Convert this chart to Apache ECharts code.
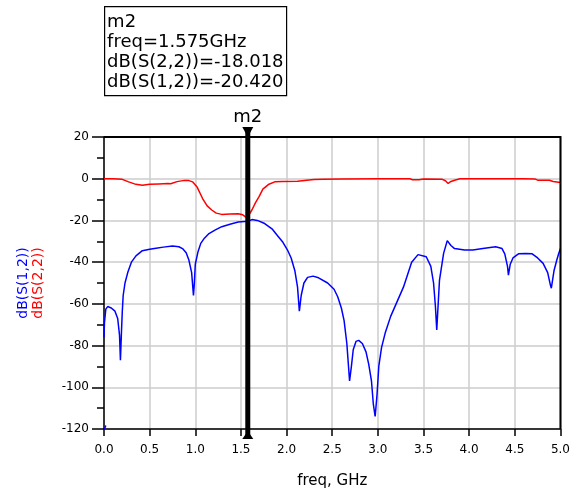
<!DOCTYPE html>
<html>
<head>
<meta charset="utf-8">
<script src="https://cdn.jsdelivr.net/npm/echarts@6/dist/echarts.min.js"></script>
<style>
  html, body { margin: 0; padding: 0; background: #fff; }
  #chart { width: 573px; height: 494px; }
</style>
</head>
<body>
<div id="chart"></div>
<script>
// Frequency sweep (GHz) and dB values, S(1,2) transmission
const s12Points = [
  [0.0, -120.5], [0.02, -118.3], [0.01, '-'],
  [0.0, -76], [0.005, -69], [0.02, -62.5], [0.04, -61.3], [0.08, -62], [0.12, -63.5],
  [0.15, -67], [0.17, -75], [0.18, -87], [0.19, -75], [0.2, -64], [0.21, -56],
  [0.23, -50], [0.26, -45], [0.3, -40], [0.35, -37], [0.42, -34.5], [0.5, -33.8],
  [0.57, -33.3], [0.65, -32.8], [0.75, -32.3], [0.82, -32.6], [0.86, -33.5],
  [0.9, -35.5], [0.93, -39], [0.96, -45], [0.98, -56], [0.99, -50], [1.0, -41],
  [1.03, -35], [1.06, -31], [1.1, -28.5], [1.15, -26.3], [1.22, -24.5], [1.29, -23],
  [1.38, -21.8], [1.47, -20.8], [1.575, -20.42], [1.62, -19.6], [1.68, -20],
  [1.76, -21.5], [1.84, -24], [1.91, -27.8], [1.96, -30.5], [2.01, -34.2],
  [2.05, -38], [2.09, -44], [2.12, -52], [2.14, -63.5], [2.16, -56], [2.19, -50],
  [2.23, -47.3], [2.29, -46.7], [2.35, -47.5], [2.45, -50], [2.52, -53],
  [2.56, -56.6], [2.6, -62], [2.63, -68], [2.66, -79], [2.69, -97], [2.71, -90],
  [2.73, -82], [2.76, -78], [2.79, -77.5], [2.83, -79], [2.87, -83], [2.9, -89],
  [2.93, -97], [2.95, -108], [2.97, -114], [2.99, -104], [3.01, -90], [3.04, -81],
  [3.08, -74], [3.14, -66], [3.2, -60], [3.28, -52], [3.37, -40], [3.44, -36.4],
  [3.53, -37.4], [3.58, -42], [3.61, -50], [3.63, -61], [3.645, -72.5], [3.675, -48.6],
  [3.72, -35.8], [3.76, -29.7], [3.8, -32], [3.84, -33.5], [3.95, -34.2],
  [4.04, -34.2], [4.15, -33.5], [4.29, -32.6], [4.36, -33.5], [4.39, -36],
  [4.42, -42], [4.43, -46.2], [4.45, -41], [4.48, -38], [4.54, -36], [4.62, -35.8],
  [4.69, -36], [4.75, -38], [4.81, -40.6], [4.86, -45], [4.89, -51], [4.9, -52.5],
  [4.93, -44], [4.96, -39], [4.98, -36], [5.0, -33.4]
];

// S(2,2) reflection
const s22Points = [
  [0.0, 0], [0.1, 0], [0.2, -0.3], [0.27, -1.5], [0.35, -2.7], [0.42, -3.1],
  [0.5, -2.7], [0.6, -2.5], [0.7, -2.3], [0.72, -1.8], [0.73, -2.4], [0.8, -1.4],
  [0.88, -0.8], [0.93, -0.9], [0.97, -1.5], [1.02, -4], [1.08, -9.5], [1.13, -13],
  [1.18, -15], [1.23, -16.5], [1.29, -17.1], [1.38, -16.9], [1.47, -16.8],
  [1.52, -17.3], [1.55, -18.3], [1.575, -18.018], [1.6, -16.5], [1.62, -15],
  [1.66, -11.5], [1.7, -8.5], [1.74, -5], [1.8, -2.8], [1.87, -1.5], [1.95, -1.3],
  [2.12, -1.2], [2.3, -0.4], [2.4, -0.2], [2.6, -0.1], [3.0, 0], [3.35, 0],
  [3.38, -0.5], [3.45, -0.5], [3.5, -0.1], [3.7, -0.2], [3.74, -1], [3.77, -2.3],
  [3.8, -1.3], [3.85, -0.6], [3.9, 0], [4.3, 0], [4.6, 0], [4.72, -0.1],
  [4.75, -0.7], [4.88, -0.7], [4.92, -1.3], [5.0, -1.8]
];

// Marker m2 readout
const markerName = 'm2';
const markerFreq = 1.575;
const markerS22 = -18.018;
const markerS12 = -20.420;

// Axis ranges
const freqMin = 0, freqMax = 5, freqStep = 0.5;
const dbMin = -120, dbMax = 20, dbStep = 20;

const FONT = '"DejaVu Sans", sans-serif';
const chart = echarts.init(document.getElementById('chart'));

chart.setOption({
  animation: false,
  backgroundColor: '#fff',
  grid: { left: 104, right: 8, top: 137, bottom: 64 },
  xAxis: {
    type: 'value', min: freqMin, max: freqMax, interval: freqStep,
    name: 'freq, GHz', nameLocation: 'middle', nameGap: 45,
    nameTextStyle: { fontFamily: FONT, fontSize: 15, color: '#000' },
    axisLine: { show: true, onZero: false, lineStyle: { color: '#000', width: 1.5 } },
    axisTick: { show: true, length: 7, lineStyle: { color: '#000', width: 1.5 } },
    axisLabel: {
      margin: 15, fontFamily: FONT, fontSize: 12, color: '#000',
      formatter: v => v.toFixed(1)
    },
    splitLine: { show: true, lineStyle: { color: '#cccccc', width: 1.5 } }
  },
  yAxis: {
    type: 'value', min: dbMin, max: dbMax, interval: dbStep,
    axisLine: { show: true, onZero: false, lineStyle: { color: '#000', width: 1.5 } },
    axisTick: { show: true, length: 12, lineStyle: { color: '#000', width: 1.5 } },
    minorTick: { show: true, splitNumber: 2, length: 7, lineStyle: { color: '#000', width: 1.5 } },
    axisLabel: { margin: 15, fontFamily: FONT, fontSize: 12, color: '#000' },
    splitLine: { show: true, lineStyle: { color: '#cccccc', width: 1.5 } }
  },
  graphic: [
    {
      type: 'text', x: 23, y: 283, rotation: Math.PI / 2,
      style: { text: 'dB(S(1,2))', fill: '#0000ff', font: '14px ' + FONT, align: 'center', verticalAlign: 'middle' }
    },
    {
      type: 'text', x: 38, y: 283, rotation: Math.PI / 2,
      style: { text: 'dB(S(2,2))', fill: '#ff0000', font: '14px ' + FONT, align: 'center', verticalAlign: 'middle' }
    },
    {
      type: 'group', left: 104, top: 6,
      children: [
        { type: 'rect', shape: { x: 0.5, y: 0.5, width: 182, height: 89 }, style: { fill: '#fff', stroke: '#000', lineWidth: 1.2 } },
        { type: 'text', x: 3, y: 16, style: { text: markerName, font: '18px ' + FONT, fill: '#000', verticalAlign: 'middle' } },
        { type: 'text', x: 3, y: 36, style: { text: 'freq=' + markerFreq.toFixed(3) + 'GHz', font: '18px ' + FONT, fill: '#000', verticalAlign: 'middle' } },
        { type: 'text', x: 3, y: 56, style: { text: 'dB(S(2,2))=' + markerS22.toFixed(3), font: '18px ' + FONT, fill: '#000', verticalAlign: 'middle' } },
        { type: 'text', x: 3, y: 76, style: { text: 'dB(S(1,2))=' + markerS12.toFixed(3), font: '18px ' + FONT, fill: '#000', verticalAlign: 'middle' } }
      ]
    }
  ],
  series: [
    {
      name: 'dB(S(2,2))', type: 'line', data: s22Points, showSymbol: false,
      lineStyle: { color: '#ff0000', width: 1.5 }, z: 3
    },
    {
      name: 'dB(S(1,2))', type: 'line', data: s12Points, showSymbol: false, connectNulls: false,
      lineStyle: { color: '#0000ff', width: 1.5 }, z: 3
    },
    {
      // plot frame (top and right edges), vertical marker bar with end triangles and its label
      type: 'custom', data: [[markerFreq]], z: 10, silent: true, clip: false,
      renderItem: (params, api) => {
        const [x0, yTop] = api.coord([freqMin, dbMax]);
        const [x1, yBot] = api.coord([freqMax, dbMin]);
        const x = api.coord([api.value(0), dbMax])[0];
        return {
          type: 'group',
          children: [
            { type: 'polyline', shape: { points: [[x0, yTop], [x1, yTop], [x1, yBot]] }, style: { fill: 'none', stroke: '#000', lineWidth: 2 } },
            { type: 'rect', shape: { x: x - 2.5, y: yTop - 9, width: 5, height: yBot - yTop + 18 }, style: { fill: '#000' } },
            { type: 'polygon', shape: { points: [[x - 5.5, yTop - 10], [x + 5.5, yTop - 10], [x, yTop]] }, style: { fill: '#000' } },
            { type: 'polygon', shape: { points: [[x - 5.5, yBot + 10], [x + 5.5, yBot + 10], [x, yBot + 2]] }, style: { fill: '#000' } },
            { type: 'text', x: x, y: yTop - 20, style: { text: markerName, font: '18px ' + FONT, fill: '#000', align: 'center', verticalAlign: 'middle' } }
          ]
        };
      }
    }
  ]
});
</script>
</body>
</html>
